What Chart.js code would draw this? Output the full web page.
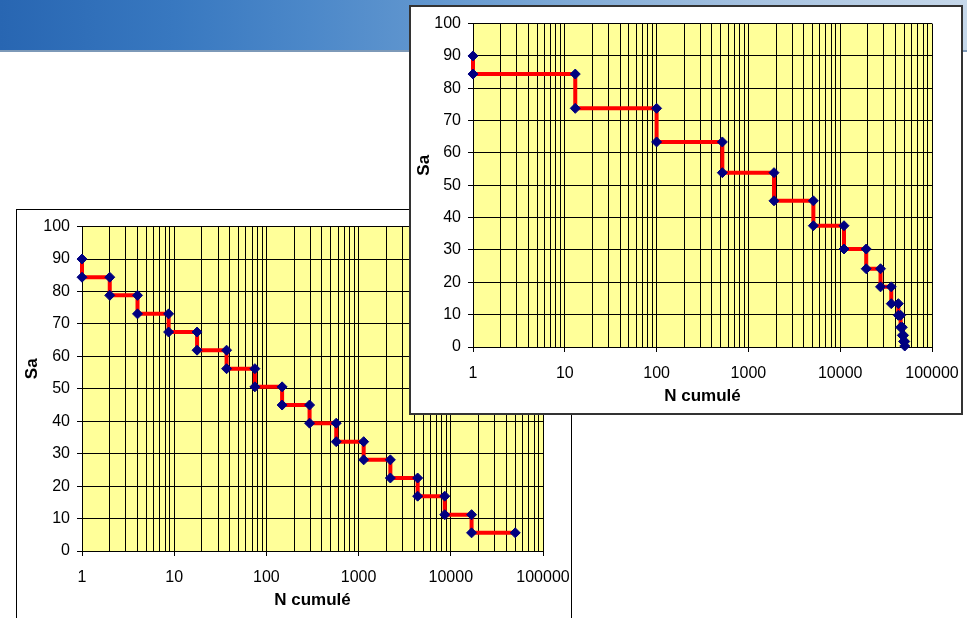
<!DOCTYPE html>
<html>
<head>
<meta charset="utf-8">
<script src="https://cdn.jsdelivr.net/npm/chart.js@4.4.1/dist/chart.umd.min.js"></script>
<style>
  html, body { margin: 0; padding: 0; width: 967px; height: 618px; overflow: hidden; background: #fff; }
  #banner {
    position: absolute; left: 0; top: 0; width: 967px; height: 50px;
    background: linear-gradient(to right, #2866b2 0%, #3878c0 18%, #4c88c9 32%, #6297cf 45%, #82acd7 60%, #a6c2e0 78%, #c6d8ea 100%);
    border-bottom: 2px solid #7d99b8;
  }
  .frame { position: absolute; background: #fff; box-sizing: border-box; }
  #frameLow { left: 16px; top: 209px; width: 556px; height: 432px; border: 1px solid #000; z-index: 1; }
  #frameHigh { left: 409px; top: 5px; width: 554px; height: 410px; border: 2px solid #333; z-index: 2; }
  .frame canvas { display: block; }
</style>
</head>
<body>
<div id="banner"></div>
<div class="frame" id="frameLow"><canvas id="chartLow" width="554" height="430"></canvas></div>
<div class="frame" id="frameHigh"><canvas id="chartHigh" width="550" height="406"></canvas></div>
<script>
// lower-left chart: cumulated N vs Sa (corner points of the steps)
const nLow = [1, 1, 2, 2, 4, 4, 8.7, 8.7, 17.7, 17.7, 37, 37, 75, 75, 148, 148,
  294, 294, 572, 572, 1135, 1135, 2210, 2210, 4370, 4370, 8600, 8600, 16800, 16800, 50000];
const saLow = [90, 84.4, 84.4, 78.8, 78.8, 73.1, 73.1, 67.5, 67.5, 61.9, 61.9, 56.2, 56.2, 50.6, 50.6, 45,
  45, 39.4, 39.4, 33.7, 33.7, 28.1, 28.1, 22.5, 22.5, 16.9, 16.9, 11.2, 11.2, 5.6, 5.6];

// top-right chart
const nHigh = [1, 1, 13, 13, 100, 100, 520, 520, 1900, 1900, 5100, 5100, 11000, 11000, 19200, 19200,
  27500, 27500, 36000, 36000, 43000, 43000, 45500, 45500, 47500, 47500, 49000, 49000, 50500, 50500];
const saHigh = [90, 84.4, 84.4, 73.8, 73.8, 63.4, 63.4, 53.9, 53.9, 45.2, 45.2, 37.5, 37.5, 30.3, 30.3, 24.2,
  24.2, 18.6, 18.6, 13.4, 13.4, 9.8, 9.8, 6.1, 6.1, 3.6, 3.6, 1.7, 1.7, 0.3];

const xDecades = [1, 10, 100, 1000, 10000, 100000];
const xTickLabels = ['1', '10', '100', '1000', '10000', '100000'];
const minorSteps = [2, 3, 4, 5, 6, 7, 8, 9];
const xTitle = 'N cumulé';
const yTitle = 'Sa';

Chart.defaults.font.family = '"Liberation Sans", Arial, sans-serif';
Chart.defaults.color = '#000';

const gridValues = [];
xDecades.forEach(function (d, i) {
  gridValues.push(d);
  if (i < xDecades.length - 1) minorSteps.forEach(function (m) { gridValues.push(m * d); });
});

// yellow plot area
const plotBg = {
  id: 'plotBg',
  beforeDraw(chart) {
    const a = chart.chartArea;
    chart.ctx.save();
    chart.ctx.fillStyle = '#ffff99';
    chart.ctx.fillRect(a.left, a.top, a.right - a.left, a.bottom - a.top);
    chart.ctx.restore();
  }
};

// draws the rotated y title a bit above the middle, like the original
const yTitlePlugin = {
  id: 'yTitle',
  afterDraw(chart, args, opts) {
    const ctx = chart.ctx;
    const area = chart.chartArea;
    ctx.save();
    ctx.translate(opts.x, (area.top + area.bottom) / 2 + opts.shift);
    ctx.rotate(-Math.PI / 2);
    ctx.font = 'bold 17px "Liberation Sans", Arial, sans-serif';
    ctx.fillStyle = '#000';
    ctx.textAlign = 'center';
    ctx.textBaseline = 'middle';
    ctx.fillText(opts.text, 0, 0);
    ctx.restore();
  }
};

function makeChart(id, xs, ys, box) {
  const pts = xs.map(function (x, i) { return { x: x, y: ys[i] }; });
  return new Chart(document.getElementById(id).getContext('2d'), {
    type: 'scatter',
    data: {
      datasets: [{
        data: pts,
        showLine: true,
        borderColor: '#ff0000',
        borderWidth: 4,
        pointStyle: 'rectRot',
        pointRadius: 5,
        pointBackgroundColor: '#000080',
        pointBorderColor: '#000080',
        pointBorderWidth: 1,
        tension: 0,
        clip: false
      }]
    },
    options: {
      responsive: false,
      animation: false,
      layout: { padding: { top: box.top, right: box.right, bottom: box.bottom, left: 0 } },
      plugins: {
        legend: { display: false },
        tooltip: { enabled: false },
        yTitle: { text: yTitle, x: box.titleX, shift: -20 }
      },
      scales: {
        x: {
          type: 'logarithmic',
          min: 1,
          max: 100000,
          afterBuildTicks: function (scale) {
            scale.ticks = gridValues.map(function (v) { return { value: v }; });
          },
          afterFit: function (scale) { scale.height = 66; },
          ticks: {
            autoSkip: false,
            maxRotation: 0,
            padding: 0,
            font: { size: 16, lineHeight: 2.7 },
            callback: function (value) {
              const i = xDecades.indexOf(value);
              return i >= 0 ? xTickLabels[i] : '';
            }
          },
          grid: {
            color: '#000',
            lineWidth: 1,
            tickLength: 5,
            tickColor: function (ctx) {
              return ctx.tick && xDecades.indexOf(ctx.tick.value) >= 0 ? '#000' : 'rgba(0,0,0,0)';
            }
          },
          border: { color: '#000', width: 1 },
          title: {
            display: true,
            text: xTitle,
            font: { size: 17, weight: 'bold' },
            padding: { top: 0, bottom: 6 }
          }
        },
        y: {
          min: 0,
          max: 100,
          afterFit: function (scale) { scale.width = box.left; },
          ticks: { stepSize: 10, padding: 7, font: { size: 16 } },
          grid: { color: '#000', lineWidth: 1, tickLength: 5, tickColor: '#000' },
          border: { color: '#000', width: 1 }
        }
      }
    },
    plugins: [plotBg, yTitlePlugin]
  });
}

const chartLow = makeChart('chartLow', nLow, saLow, { left: 65, top: 14, right: 28, bottom: 23, titleX: 15 });
const chartHigh = makeChart('chartHigh', nHigh, saHigh, { left: 62, top: 15, right: 29, bottom: 0, titleX: 13 });
</script>
</body>
</html>
